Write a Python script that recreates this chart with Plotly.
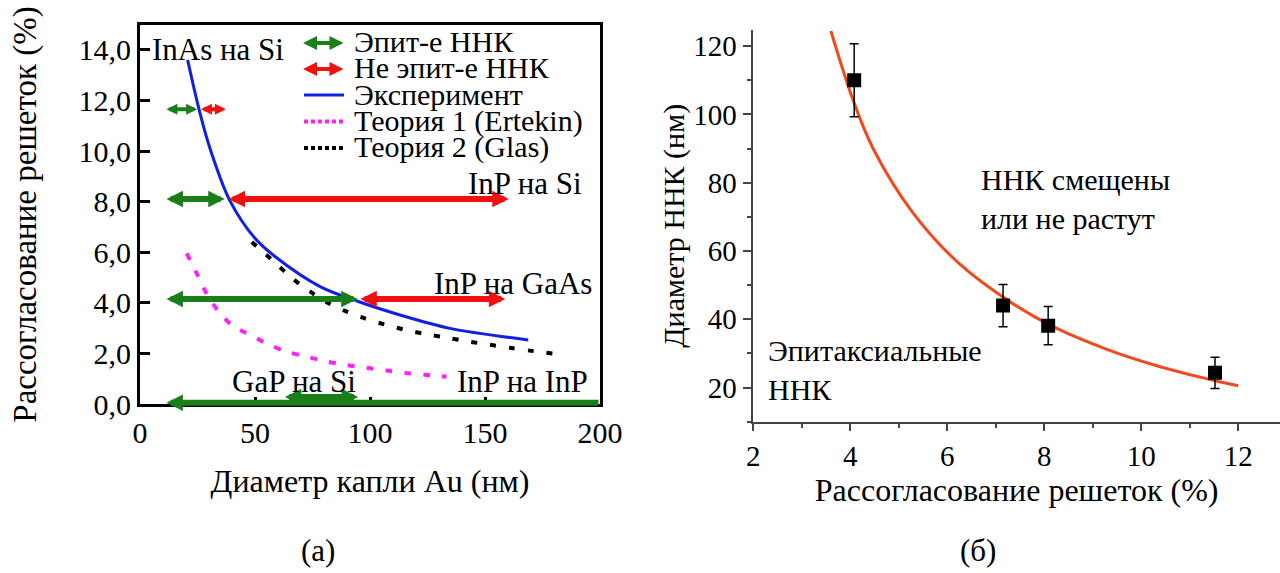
import plotly.graph_objects as go

# ---------------- data: panel (a) ----------------
exp_x = [20.7, 25.8, 30.9, 39.0, 50.0, 59.4, 78.3, 94.9, 113.0, 134.8, 168.8]
exp_y = [13.6, 11.6, 9.97, 8.05, 6.55, 5.78, 4.64, 4.05, 3.52, 2.99, 2.53]

ert_x = [20.3, 25.4, 29.7, 34.0, 39.9, 48.6, 55.8, 63.8, 72.5, 81.2, 89.9, 98.6, 107.2, 116.0, 124.6, 133.3]
ert_y = [5.95, 5.03, 4.24, 3.68, 3.12, 2.70, 2.36, 2.07, 1.87, 1.68, 1.54, 1.43, 1.32, 1.22, 1.15, 1.08]

glas_x = [48.6, 58.0, 66.0, 73.9, 81.2, 89.9, 97.8, 106.5, 115.0, 124.0, 133.3, 142.8, 151.4, 160.9, 171.0, 180.4]
glas_y = [6.40, 5.65, 4.98, 4.45, 4.02, 3.65, 3.38, 3.14, 2.94, 2.77, 2.62, 2.47, 2.35, 2.22, 2.09, 1.98]

# double arrows: (x start, x end, y)
epi_x0 = [11.5, 11.5, 11.5, 11.5, 63.0]
epi_x1 = [25.5, 37.5, 95.3, 200.0, 95.5]
epi_y = [11.65, 8.1, 4.15, 0.05, 0.28]
nonepi_x0 = [26.5, 38.5, 95.8]
nonepi_x1 = [38.0, 161.0, 159.5]
nonepi_y = [11.65, 8.1, 4.15]

a_ytick_vals = [0, 2, 4, 6, 8, 10, 12, 14]
a_ytick_text = ["0,0", "2,0", "4,0", "6,0", "8,0", "10,0", "12,0", "14,0"]
a_xtick_vals = [0, 50, 100, 150, 200]

a_labels = ["InAs на Si", "InP на Si", "InP на GaAs", "GaP на Si", "InP на InP"]
a_label_x = [4.5, 193.0, 197.5, 67.0, 195.5]
a_label_y = [14.0, 8.7, 4.75, 0.9, 0.9]
a_label_anchor = ["left", "right", "right", "center", "right"]

legend_names = ["Эпит-е ННК", "Не эпит-е ННК", "Эксперимент", "Теория 1 (Ertekin)", "Теория 2 (Glas)"]

# ---------------- data: panel (б) ----------------
pt_x = [4.08, 7.15, 8.08, 11.52]
pt_y = [110.0, 44.0, 38.1, 24.3]
pt_err = [10.7, 6.2, 5.6, 4.6]

fit_x = [3.60, 4.05, 4.47, 5.30, 6.23, 7.36, 8.26, 9.29, 10.32, 11.35, 12.0]
fit_y = [124.4, 104.5, 90.0, 71.0, 56.5, 44.5, 37.3, 31.2, 26.4, 22.6, 20.5]

GREEN = "#1a7f1a"
RED = "#f01010"
BLUE = "#1020e0"
MAGENTA = "#ff20ff"
ORANGE = "#f04a1e"
FONT = "Liberation Serif, Times New Roman, DejaVu Serif, serif"

fig = go.Figure()

# panel (a) curves
fig.add_trace(go.Scatter(x=exp_x, y=exp_y, mode="lines",
                         line=dict(color=BLUE, width=3, shape="spline", smoothing=0.9),
                         xaxis="x", yaxis="y", showlegend=False, name=legend_names[2]))
fig.add_trace(go.Scatter(x=ert_x, y=ert_y, mode="lines",
                         line=dict(color=MAGENTA, width=4, dash="7px,12px", shape="spline", smoothing=0.9),
                         xaxis="x", yaxis="y", showlegend=False, name=legend_names[3]))
fig.add_trace(go.Scatter(x=glas_x, y=glas_y, mode="lines",
                         line=dict(color="black", width=4, dash="6px,13px", shape="spline", smoothing=0.9),
                         xaxis="x", yaxis="y", showlegend=False, name=legend_names[4]))

# panel (б)
fig.add_trace(go.Scatter(x=fit_x, y=fit_y, mode="lines",
                         line=dict(color=ORANGE, width=3, shape="spline", smoothing=1.0),
                         xaxis="x2", yaxis="y2", showlegend=False))
fig.add_trace(go.Scatter(x=pt_x, y=pt_y, mode="markers",
                         marker=dict(symbol="square", size=14, color="black"),
                         error_y=dict(type="data", array=pt_err, visible=True, color="black", thickness=1.5, width=4.5),
                         xaxis="x2", yaxis="y2", showlegend=False))

annotations = []


def darrow(x0, x1, y, color, w, both=True):
    return dict(x=x0, y=y, ax=x1, ay=y, xref="x", yref="y", axref="x", ayref="y",
                text="", showarrow=True, arrowhead=2, startarrowhead=2,
                arrowsize=0.55, startarrowsize=0.55, arrowwidth=w, arrowcolor=color,
                arrowside="end+start" if both else "end")


for i in range(len(epi_y)):
    w = 4 if (epi_x1[i] - epi_x0[i]) < 20 else 6
    annotations.append(darrow(epi_x0[i], epi_x1[i], epi_y[i], GREEN, w, both=epi_x1[i] < 199))
for i in range(len(nonepi_y)):
    w = 4 if (nonepi_x1[i] - nonepi_x0[i]) < 20 else 6
    annotations.append(darrow(nonepi_x0[i], nonepi_x1[i], nonepi_y[i], RED, w))

for t, x, y, anc in zip(a_labels, a_label_x, a_label_y, a_label_anchor):
    annotations.append(dict(x=x, y=y, xref="x", yref="y", text=t, showarrow=False,
                            xanchor=anc, yanchor="middle", font=dict(size=31, family=FONT, color="black")))

# legend (panel a), paper coords
W, H = 1280, 573
leg_rows = [42, 68, 94, 120.5, 147]
for name, ry in zip(legend_names, leg_rows):
    annotations.append(dict(x=352 / W, y=1 - ry / H, xref="paper", yref="paper", text=name, showarrow=False,
                            xanchor="left", yanchor="middle", font=dict(size=30, family=FONT, color="black")))
for ry, col in zip(leg_rows[:2], [GREEN, RED]):
    annotations.append(dict(x=303 / W, y=1 - (ry + 1) / H, xref="paper", yref="paper", ax=42, ay=0,
                            text="", showarrow=True, arrowhead=2, startarrowhead=2, arrowsize=0.7,
                            startarrowsize=0.7, arrowwidth=4, arrowcolor=col, arrowside="end+start"))
shapes = []
for ry, col, dash in zip(leg_rows[2:], [BLUE, MAGENTA, "black"], ["solid", "4px,3px", "4px,3px"]):
    shapes.append(dict(type="line", xref="paper", yref="paper", x0=304 / W, x1=344 / W,
                       y0=1 - (ry + 1) / H, y1=1 - (ry + 1) / H,
                       line=dict(color=col, width=3 if dash == "solid" else 4, dash=dash)))

# panel (б) labels
annotations.append(dict(x=6.66, y=75.1, xref="x2", yref="y2", text="ННК смещены<br>или не растут",
                        showarrow=False, xanchor="left", yanchor="middle", align="left",
                        font=dict(size=30, family=FONT, color="black")))
annotations.append(dict(x=2.26, y=25.1, xref="x2", yref="y2", text="Эпитаксиальные<br>ННК",
                        showarrow=False, xanchor="left", yanchor="middle", align="left",
                        font=dict(size=30, family=FONT, color="black")))

# subfigure labels
annotations.append(dict(x=318 / W, y=1 - 550 / H, xref="paper", yref="paper", text="(а)", showarrow=False,
                        xanchor="center", yanchor="middle", font=dict(size=31, family=FONT, color="black")))
annotations.append(dict(x=978 / W, y=1 - 550 / H, xref="paper", yref="paper", text="(б)", showarrow=False,
                        xanchor="center", yanchor="middle", font=dict(size=31, family=FONT, color="black")))

fig.update_layout(
    width=W, height=H,
    margin=dict(l=0, r=0, t=0, b=0, pad=0, autoexpand=False),
    paper_bgcolor="white", plot_bgcolor="white",
    font=dict(family=FONT, color="black", size=28),
    showlegend=False,
    xaxis=dict(domain=[140 / W, 600 / W], range=[0, 200], anchor="y", automargin=False,
               tickvals=a_xtick_vals, ticks="inside", ticklen=7, tickwidth=3, tickcolor="black",
               showline=True, linecolor="black", linewidth=3, mirror=True, showgrid=False, zeroline=False,
               tickfont=dict(size=30, family=FONT),
               title=dict(text="Диаметр капли Au (нм)", font=dict(size=32, family=FONT), standoff=22)),
    yaxis=dict(domain=[1 - 404 / H, 1 - 25 / H], range=[0, 14.98], anchor="x", automargin=False,
               tickvals=a_ytick_vals, ticktext=a_ytick_text, ticks="inside", ticklen=10, tickwidth=3,
               tickcolor="black", showline=True, linecolor="black", linewidth=3, mirror=True,
               showgrid=False, zeroline=False, tickfont=dict(size=30, family=FONT),
               title=dict(text="Рассогласование решеток (%)", font=dict(size=33, family=FONT), standoff=32)),
    xaxis2=dict(domain=[753.3 / W, 1.0], range=[2, 12.86], anchor="y2", automargin=False,
                tick0=0, dtick=2, ticks="outside", ticklen=8, tickwidth=1.5, tickcolor="#444",
                minor=dict(dtick=1, ticks="outside", ticklen=5, tickwidth=1.5, tickcolor="#444"),
                showline=True, linecolor="#444", linewidth=1.5, showgrid=False, zeroline=False,
                tickfont=dict(size=29, family=FONT),
                title=dict(text="Рассогласование решеток (%)", font=dict(size=32, family=FONT), standoff=0)),
    yaxis2=dict(domain=[1 - 421.7 / H, 1 - 30 / H], range=[10, 124.7], anchor="x2", automargin=False,
                tick0=0, dtick=20, ticks="outside", ticklen=9, tickwidth=1.5, tickcolor="#444",
                minor=dict(dtick=10, ticks="outside", ticklen=5, tickwidth=1.5, tickcolor="#444"),
                showline=True, linecolor="#444", linewidth=1.5, showgrid=False, zeroline=False,
                tickfont=dict(size=29, family=FONT),
                title=dict(text="Диаметр ННК (нм)", font=dict(size=30, family=FONT), standoff=0)),
    annotations=annotations,
    shapes=shapes,
)

fig.write_html("out.html")
